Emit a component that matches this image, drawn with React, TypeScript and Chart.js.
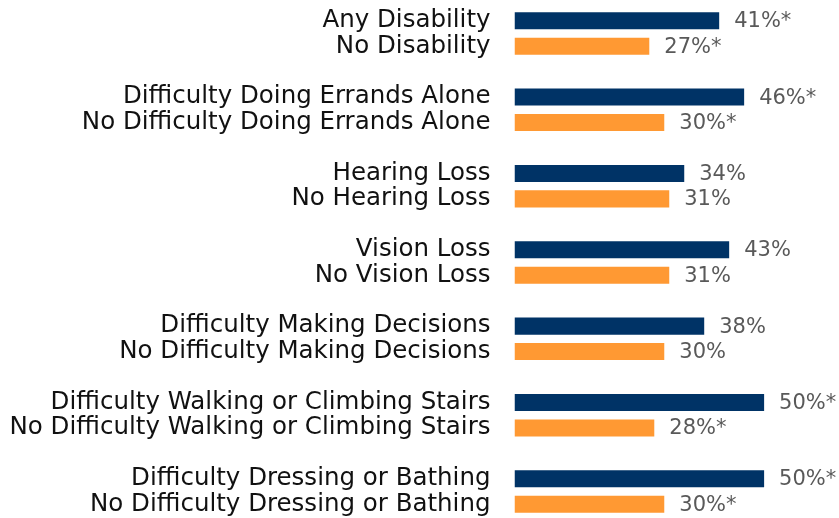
import React, { useEffect, useRef } from "react";
import { Chart, registerables } from "chart.js";

Chart.register(...registerables);

const groupLabels = [
  ["Any Disability", "No Disability"],
  ["Difficulty Doing Errands Alone", "No Difficulty Doing Errands Alone"],
  ["Hearing Loss", "No Hearing Loss"],
  ["Vision Loss", "No Vision Loss"],
  ["Difficulty Making Decisions", "No Difficulty Making Decisions"],
  ["Difficulty Walking or Climbing Stairs", "No Difficulty Walking or Climbing Stairs"],
  ["Difficulty Dressing or Bathing", "No Difficulty Dressing or Bathing"],
];
const withCondition = [41, 46, 34, 43, 38, 50, 50];
const withoutCondition = [27, 30, 31, 31, 30, 28, 30];
const significant = [true, true, false, false, false, true, true];

const NAVY = "#003366";
const ORANGE = "#FF9933";
const FONT = "'DejaVu Sans', sans-serif";

const labels: string[] = [];
const values: (number | null)[] = [];
const colors: string[] = [];
const valueTexts: string[] = [];
groupLabels.forEach((pair, i) => {
  if (i > 0) {
    labels.push("");
    values.push(null);
    colors.push("transparent");
    valueTexts.push("");
  }
  const star = significant[i] ? "*" : "";
  labels.push(pair[0]);
  values.push(withCondition[i]);
  colors.push(NAVY);
  valueTexts.push(withCondition[i] + "%" + star);
  labels.push(pair[1]);
  values.push(withoutCondition[i]);
  colors.push(ORANGE);
  valueTexts.push(withoutCondition[i] + "%" + star);
});

const valueLabelPlugin = {
  id: "valueLabels",
  afterDatasetsDraw(chart: any) {
    const ctx = chart.ctx;
    const meta = chart.getDatasetMeta(0);
    ctx.save();
    ctx.font = `21px ${FONT}`;
    ctx.fillStyle = "#595959";
    ctx.textAlign = "left";
    ctx.textBaseline = "middle";
    meta.data.forEach((bar: any, i: number) => {
      const t = valueTexts[i];
      if (!t) return;
      ctx.fillText(t, bar.x + 15, bar.y + 1);
    });
    ctx.restore();
  },
};

export default function App() {
  const ref = useRef<HTMLCanvasElement | null>(null);
  useEffect(() => {
    document.body.style.margin = "0";
    const chart = new Chart(ref.current!, {
      type: "bar",
      data: {
        labels,
        datasets: [
          {
            data: values,
            backgroundColor: colors,
            barPercentage: 0.67,
            categoryPercentage: 1,
          },
        ],
      },
      options: {
        indexAxis: "y",
        animation: false,
        responsive: true,
        maintainAspectRatio: false,
        layout: { padding: { top: 8, bottom: 1, left: 0, right: 0 } },
        plugins: { legend: { display: false }, tooltip: { enabled: false } },
        scales: {
          x: { display: false, min: 0, max: 65 },
          y: {
            afterFit: (s: any) => {
              s.width = 514.5;
              s.paddingTop = 0;
              s.paddingBottom = 0;
            },
            grid: { display: false, drawTicks: false },
            border: { display: false },
            ticks: {
              autoSkip: false,
              padding: 24,
              color: "#111111",
              font: { family: FONT, size: 24.5 },
            },
          },
        },
      },
      plugins: [valueLabelPlugin],
    });
    return () => chart.destroy();
  }, []);
  return (
    <div style={{ width: 839, height: 518, position: "relative" }}>
      <canvas ref={ref} />
    </div>
  );
}
